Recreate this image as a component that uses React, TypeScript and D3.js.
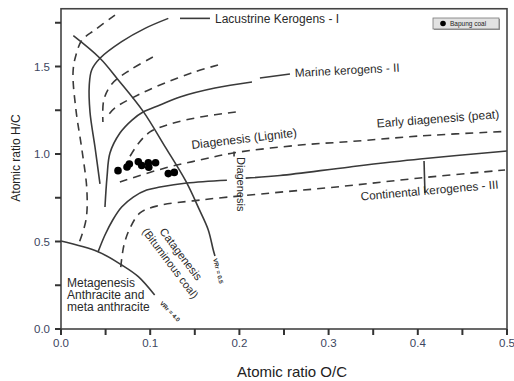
import { useEffect, useRef } from "react";
import * as d3 from "d3";

type Pt = [number, number];

// Bapung coal samples (O/C, H/C)
const bapungCoal: Pt[] = [
  [0.0639, 0.905],
  [0.074, 0.926],
  [0.0766, 0.943],
  [0.0867, 0.956],
  [0.0905, 0.934],
  [0.0979, 0.95],
  [0.0984, 0.924],
  [0.106, 0.95],
  [0.1203, 0.888],
  [0.127, 0.895],
];

// kerogen evolution paths (solid)
const typeI: Pt[] = [
  [0.0437, 0.829], [0.0381, 1.04], [0.0325, 1.24], [0.0317, 1.394], [0.0344, 1.48],
  [0.0437, 1.547], [0.068, 1.642], [0.0942, 1.718], [0.1203, 1.775],
];
const typeII: Pt[] = [
  [0.0493, 0.697], [0.0516, 0.869], [0.0549, 1.006], [0.0661, 1.12], [0.0796, 1.194],
  [0.092, 1.24], [0.111, 1.28], [0.1334, 1.326], [0.1726, 1.377], [0.2141, 1.411],
];
const typeIIILeft: Pt[] = [
  [0.0415, 0.44], [0.0493, 0.537], [0.058, 0.623], [0.068, 0.697], [0.081, 0.754],
  [0.096, 0.794], [0.111, 0.811], [0.141, 0.834], [0.186, 0.85],
];
const typeIIIRight: Pt[] = [
  [0.207, 0.862], [0.2455, 0.877], [0.324, 0.926], [0.4025, 0.971], [0.5, 1.017],
];

// maturity limits (solid)
const vr05: Pt[] = [
  [0.0138, 1.676], [0.0437, 1.547], [0.0642, 1.423], [0.0923, 1.242], [0.1166, 1.042],
  [0.1401, 0.843], [0.1547, 0.686], [0.1651, 0.566], [0.1707, 0.451], [0.1726, 0.417],
];
const vr40: Pt[] = [
  [0, 0.503], [0.0415, 0.442], [0.068, 0.366], [0.0867, 0.299], [0.105, 0.194],
];

// short leaders / dividers
const leaderI: Pt[] = [[0.1334, 1.775], [0.167, 1.775]];
const leaderII: Pt[] = [[0.223, 1.434], [0.2567, 1.457]];
const dividerIII: Pt[] = [[0.407, 0.96], [0.408, 0.777]];
const dividerDiag: Pt[] = [[0.194, 1.014], [0.194, 0.986]];

// band boundaries (dashed)
const dashOuterI: Pt[] = [
  [0.0605, 1.794], [0.038, 1.709], [0.0235, 1.651], [0.0168, 1.566], [0.0135, 1.469],
  [0.0168, 1.251], [0.0235, 1.023], [0.029, 0.794], [0.028, 0.623], [0.019, 0.474],
];
const dashInnerI: Pt[] = [
  [0.103, 1.554], [0.0774, 1.48], [0.057, 1.4], [0.048, 1.309], [0.047, 1.183],
];
const dashOuterII: Pt[] = [
  [0.176, 1.509], [0.15, 1.469], [0.1166, 1.406], [0.0863, 1.337], [0.0605, 1.263], [0.0504, 1.206],
];
const dashInnerII: Pt[] = [
  [0.196, 1.24], [0.156, 1.211], [0.122, 1.171], [0.0998, 1.126], [0.0863, 1.057], [0.075, 0.966],
];
const dashPeat: Pt[] = [
  [0.066, 0.84], [0.1166, 0.92], [0.156, 0.966], [0.193, 1.006], [0.268, 1.051],
  [0.324, 1.071], [0.4025, 1.103], [0.4978, 1.129],
];
const dashLowerIII: Pt[] = [
  [0.067, 0.354], [0.0706, 0.48], [0.0774, 0.577], [0.0886, 0.663], [0.1076, 0.703],
  [0.156, 0.737], [0.223, 0.771], [0.313, 0.814], [0.4025, 0.863], [0.4978, 0.909],
];

const xTicks = d3.range(0, 0.501, 0.05);
const xTickLabels = ["0.0", "0.1", "0.2", "0.3", "0.4", "0.5"];
const yTicks = d3.range(0, 1.76, 0.25);
const yTickLabels = ["0.0", "0.5", "1.0", "1.5"];

export default function App() {
  const chartRef = useRef<SVGSVGElement>(null);

  useEffect(() => {
    const width = 514;
    const height = 381;
    const ink = "#3a3a3a";
    const font = "'Liberation Sans', Arial, sans-serif";

    const x = d3.scaleLinear().domain([0, 0.5]).range([61, 507]);
    const y = d3.scaleLinear().domain([0, 1.83]).range([329, 8.75]);

    const svg = d3.select(chartRef.current).attr("width", width).attr("height", height);
    svg.selectAll("*").remove();
    svg.append("rect").attr("width", width).attr("height", height).attr("fill", "#fff");

    const line = d3
      .line<Pt>()
      .x((d) => x(d[0]))
      .y((d) => y(d[1]))
      .curve(d3.curveCatmullRom.alpha(0.5));

    const g = svg.append("g");

    // solid curves
    [typeI, typeII, typeIIILeft, typeIIIRight, vr05, vr40, leaderI, leaderII, dividerIII, dividerDiag].forEach((pts) => {
      g.append("path")
        .attr("d", line(pts))
        .attr("fill", "none")
        .attr("stroke", ink)
        .attr("stroke-width", 1.6);
    });

    // dashed curves
    [dashOuterI, dashInnerI, dashOuterII, dashInnerII, dashPeat, dashLowerIII].forEach((pts) => {
      g.append("path")
        .attr("d", line(pts))
        .attr("fill", "none")
        .attr("stroke", ink)
        .attr("stroke-width", 1.6)
        .attr("stroke-dasharray", "8,6");
    });

    // samples
    g.selectAll(".dot")
      .data(bapungCoal)
      .enter()
      .append("circle")
      .attr("cx", (d) => x(d[0]))
      .attr("cy", (d) => y(d[1]))
      .attr("r", 3.8)
      .attr("fill", "#000");

    // frame
    svg.append("rect")
      .attr("x", x(0))
      .attr("y", y(1.83))
      .attr("width", x(0.5) - x(0))
      .attr("height", y(0) - y(1.83))
      .attr("fill", "none")
      .attr("stroke", "#444")
      .attr("stroke-width", 1.6);

    // ticks
    svg.selectAll(".xtick")
      .data(xTicks)
      .enter()
      .append("line")
      .attr("x1", (d) => x(d))
      .attr("x2", (d) => x(d))
      .attr("y1", y(0))
      .attr("y2", y(0) + 6)
      .attr("stroke", "#333")
      .attr("stroke-width", 2);
    svg.selectAll(".ytick")
      .data(yTicks)
      .enter()
      .append("line")
      .attr("x1", x(0) - 6)
      .attr("x2", x(0))
      .attr("y1", (d) => y(d))
      .attr("y2", (d) => y(d))
      .attr("stroke", "#333")
      .attr("stroke-width", 2);

    const tickColor = "#3c4660";
    svg.selectAll(".xlab")
      .data(xTickLabels)
      .enter()
      .append("text")
      .attr("x", (d) => x(+d))
      .attr("y", 347)
      .attr("text-anchor", "middle")
      .style("font-family", font)
      .style("font-size", "11.5px")
      .attr("fill", tickColor)
      .text((d) => d);
    svg.selectAll(".ylab")
      .data(yTickLabels)
      .enter()
      .append("text")
      .attr("x", 50)
      .attr("y", (d) => y(+d) + 4)
      .attr("text-anchor", "end")
      .style("font-family", font)
      .style("font-size", "11.5px")
      .attr("fill", tickColor)
      .text((d) => d);

    // axis titles
    svg.append("text")
      .attr("x", 292)
      .attr("y", 377)
      .attr("text-anchor", "middle")
      .style("font-family", font)
      .style("font-size", "15px")
      .attr("fill", "#222")
      .text("Atomic ratio O/C");
    svg.append("text")
      .attr("transform", "translate(20,158) rotate(-90)")
      .attr("text-anchor", "middle")
      .style("font-family", font)
      .style("font-size", "12px")
      .attr("fill", "#222")
      .text("Atomic ratio H/C");

    // annotations
    const note = (
      tx: number,
      ty: number,
      angle: number,
      size: number,
      txt: string,
      anchor = "start",
      baseline = "auto"
    ) =>
      svg.append("text")
        .attr("transform", `translate(${tx},${ty}) rotate(${angle})`)
        .attr("text-anchor", anchor)
        .attr("dominant-baseline", baseline)
        .style("font-family", font)
        .style("font-size", `${size}px`)
        .attr("fill", "#2a2a2a")
        .text(txt);

    note(215, 22.5, 0, 12, "Lacustrine Kerogens - I");
    note(295, 77, -3, 11.8, "Marine kerogens - II");
    note(192, 149, -6.8, 12, "Diagenesis (Lignite)");
    note(377, 127.5, -4.3, 12, "Early diagenesis (peat)");
    note(361, 200.5, -5, 11.8, "Continental kerogenes - III");
    note(237, 157, 90, 11, "Diagenesis");
    note(181, 254, 53, 11.2, "Catagenesis", "middle", "central");
    note(170.5, 263, 53, 11, "(Bituminous coal)", "middle", "central");
    note(218, 271, 76, 6, "VRr = 0.5", "middle", "central").style("font-weight", "bold");
    note(170, 311.5, 45, 6, "VRr = 4.0", "middle", "central").style("font-weight", "bold");
    note(67, 287, 0, 12, "Metagenesis");
    note(67, 299, 0, 12, "Anthracite and");
    note(67, 311, 0, 12, "meta anthracite");

    // legend
    const lg = svg.append("g").attr("transform", "translate(433,18)");
    lg.append("rect")
      .attr("x", 1)
      .attr("y", 1)
      .attr("width", 66)
      .attr("height", 11)
      .attr("fill", "#9a9a9a");
    lg.append("rect")
      .attr("width", 66)
      .attr("height", 11)
      .attr("fill", "#e2e2e2")
      .attr("stroke", "#777")
      .attr("stroke-width", 0.8);
    lg.append("circle").attr("cx", 10).attr("cy", 5.5).attr("r", 2.8).attr("fill", "#000");
    lg.append("text")
      .attr("x", 17)
      .attr("y", 8)
      .style("font-family", font)
      .style("font-size", "6.5px")
      .attr("fill", "#222")
      .text("Bapung coal");
  }, []);

  return (
    <svg
      ref={chartRef}
      style={{ position: "absolute", left: 0, top: 0, display: "block" }}
    />
  );
}
